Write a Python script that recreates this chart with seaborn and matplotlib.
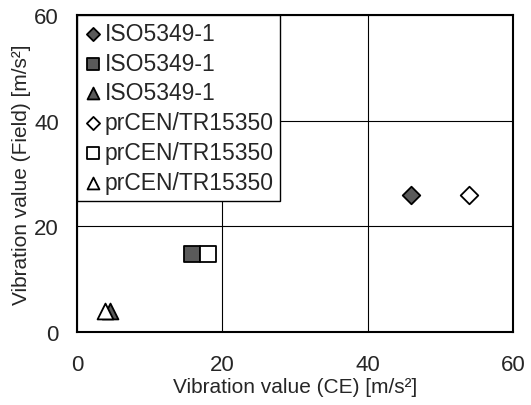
import matplotlib
matplotlib.use("Agg")
import matplotlib.pyplot as plt
import seaborn as sns
import pandas as pd

sns.set_style("white")
plt.rcParams["font.family"] = ["Liberation Sans", "DejaVu Sans"]

# Measured vibration values: CE test (x) vs. field (y), in m/s²
labels = ["ISO5349-1", "ISO5349-1", "ISO5349-1",
          "prCEN/TR15350", "prCEN/TR15350", "prCEN/TR15350"]
ce_values = [46.0, 15.8, 4.5, 54.0, 18.0, 3.8]
field_values = [26.0, 14.7, 4.0, 26.0, 14.7, 4.0]
markers = ["D", "s", "^", "D", "s", "^"]
face_colors = ["#5a5a5a", "#5a5a5a", "#5a5a5a", "white", "white", "white"]
marker_sizes = [80, 130, 130, 80, 130, 130]

x_ticks = [0, 20, 40, 60]
y_ticks = [0, 20, 40, 60]

df = pd.DataFrame({"label": labels, "ce": ce_values, "field": field_values})

fig, ax = plt.subplots(figsize=(5.31, 4.06), dpi=100)
fig.subplots_adjust(left=0.145, right=0.966, top=0.961, bottom=0.180)

for i in range(len(df)):
    sns.scatterplot(data=df.iloc[[i]], x="ce", y="field", ax=ax,
                    marker=markers[i], s=marker_sizes[i],
                    color=face_colors[i], edgecolor="black", linewidth=1.3,
                    label=labels[i], zorder=3)

ax.set_xlim(0, 60)
ax.set_ylim(0, 60)
ax.set_xticks(x_ticks)
ax.set_yticks(y_ticks)
ax.tick_params(axis="both", length=0, labelsize=16)
ax.tick_params(axis="x", pad=16)
ax.tick_params(axis="y", pad=13)
ax.grid(True, color="black", linewidth=0.8)
ax.set_axisbelow(True)
for sp in ax.spines.values():
    sp.set_color("black")
    sp.set_linewidth(1.5)

ax.set_xlabel("Vibration value (CE) [m/s²]", fontsize=15, labelpad=1)
ax.set_ylabel("Vibration value (Field) [m/s²]", fontsize=15, labelpad=2)

leg = ax.legend(loc="upper left", borderaxespad=0, fontsize=16.5,
                frameon=True, fancybox=False, edgecolor="black",
                framealpha=1, handletextpad=0.1, handlelength=0.8,
                labelspacing=0.3, borderpad=0.3, markerscale=0.75)
leg.get_frame().set_linewidth(1.0)

fig.savefig("out.png", dpi=100)
